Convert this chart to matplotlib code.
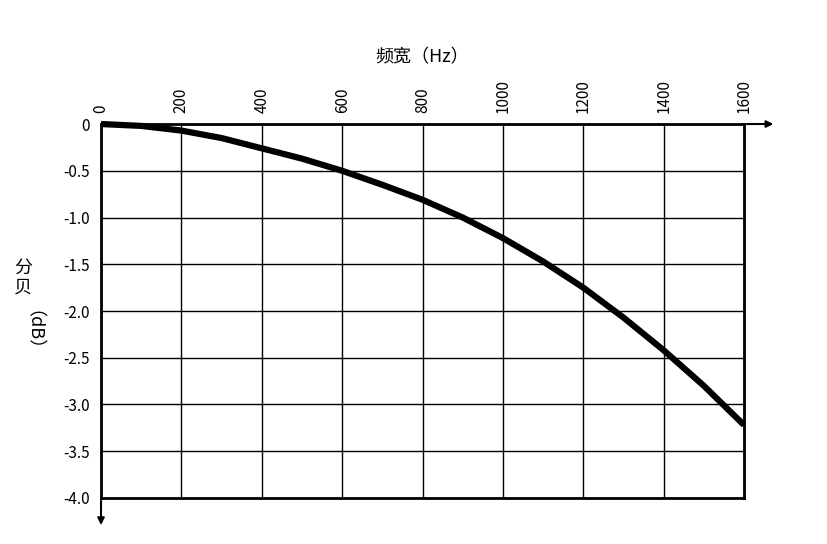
import matplotlib.pyplot as plt
import matplotlib as mpl

mpl.rcParams['font.family'] = ['Noto Sans CJK SC']

freq = [0, 100, 200, 300, 400, 500, 600, 700, 800, 900, 1000, 1100, 1200, 1300, 1400, 1500, 1600]
db = [0, -0.02, -0.07, -0.15, -0.26, -0.37, -0.5, -0.65, -0.81, -1.0, -1.22, -1.47, -1.75, -2.07, -2.42, -2.8, -3.22]
xticks = [0, 200, 400, 600, 800, 1000, 1200, 1400, 1600]
yticks = [0, -0.5, -1.0, -1.5, -2.0, -2.5, -3.0, -3.5, -4.0]
ylabels = ['0', '-0.5', '-1.0', '-1.5', '-2.0', '-2.5', '-3.0', '-3.5', '-4.0']

fig = plt.figure(figsize=(8.28, 5.44), dpi=100)
ax = fig.add_axes([0.122, 0.0846, 0.7766, 0.6874])
ax.plot(freq, db, color='black', lw=4.5, solid_capstyle='butt', clip_on=False)
ax.set_xlim(0, 1600)
ax.set_ylim(-4.0, 0)
ax.xaxis.tick_top()
ax.xaxis.set_label_position('top')
ax.set_xticks(xticks)
ax.set_xticklabels([str(t) for t in xticks], rotation=90, fontsize=11)
ax.set_yticks(yticks)
ax.set_yticklabels(ylabels, fontsize=11)
ax.tick_params(length=0, pad=8)
ax.grid(True, color='black', lw=1)
for s in ax.spines.values():
    s.set_linewidth(2)
ax.set_xlabel('频宽（Hz）', fontsize=13, labelpad=12)

# axis arrows
ax.annotate('', xy=(1.05, 1.0), xytext=(1.0, 1.0), xycoords='axes fraction',
            arrowprops=dict(arrowstyle='-|>', color='black', lw=1.5, mutation_scale=10))
ax.annotate('', xy=(0, -0.08), xytext=(0, 0), xycoords='axes fraction',
            arrowprops=dict(arrowstyle='-|>', color='black', lw=1.5, mutation_scale=10))

fig.text(0.028, 0.49, '分\n贝', fontsize=13, ha='center', va='center', linespacing=1.1)
fig.text(0.028, 0.375, '（dB）', fontsize=13, ha='center', va='center', rotation=-90)

plt.savefig('out.png', dpi=100)
